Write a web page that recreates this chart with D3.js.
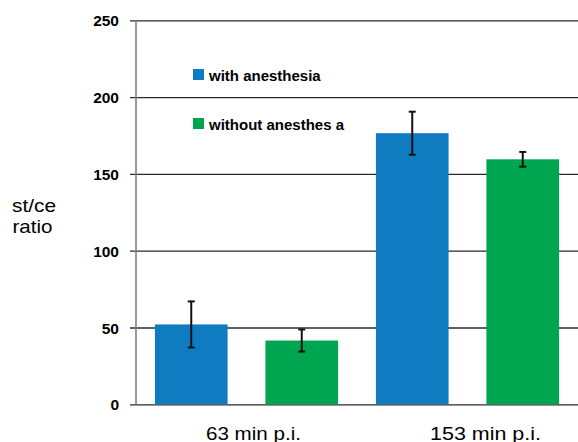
<!DOCTYPE html>
<html><head><meta charset="utf-8">
<script src="https://cdn.jsdelivr.net/npm/d3@7"></script>
<style>body{margin:0;background:#fff}</style>
</head><body>
<svg id="c" width="578" height="442"></svg>
<script>
const categories = ["63 min p.i.", "153 min p.i."];
const seriesNames = ["with anesthesia", "without anesthes a"];
const withAnesthesia = [52, 176.5];
const withAnesthesiaErr = [15, 14];
const withoutAnesthesia = [41.5, 159.5];
const withoutAnesthesiaErr = [7.2, 4.8];
const yTicks = [0, 50, 100, 150, 200, 250];
const colors = ["#0f7bc1", "#00a550"];

const svg = d3.select("#c");
const mLeft = 136, mRight = 578, mTop = 20.3, mBottom = 404.3;

const y = d3.scaleLinear().domain([0, 250]).range([mBottom, mTop]);
const x0 = d3.scaleBand().domain(categories).range([mLeft, mRight]).padding(0);
const x1 = d3.scaleBand().domain(seriesNames).range([0, x0.bandwidth()])
  .paddingInner(38 / 111).paddingOuter(19 / 111);

// gridlines + ticks
const yAxis = d3.axisLeft(y).tickValues(yTicks).tickSize(-(mRight - mLeft)).tickSizeOuter(0)
  .tickFormat(d3.format("d"));
const ga = svg.append("g").attr("transform", `translate(${mLeft},0)`).call(yAxis);
ga.select(".domain").remove();
ga.selectAll(".tick line").attr("x1", -6).attr("stroke", "#2a2a2a").attr("stroke-width", 1.3);
ga.selectAll(".tick text").attr("x", -17).attr("dy", "0.36em")
  .attr("font-family", "Liberation Sans, Arial, sans-serif").attr("font-weight", "bold")
  .attr("font-size", 15.5).attr("fill", "#000");

// vertical axis line
svg.append("line").attr("x1", mLeft).attr("x2", mLeft).attr("y1", y(250)).attr("y2", y(0))
  .attr("stroke", "#7a7a7a").attr("stroke-width", 1.5);

const data = categories.map((c, i) => ({
  cat: c,
  vals: [
    { s: seriesNames[0], v: withAnesthesia[i], e: withAnesthesiaErr[i], col: colors[0] },
    { s: seriesNames[1], v: withoutAnesthesia[i], e: withoutAnesthesiaErr[i], col: colors[1] }
  ]
}));

const groups = svg.append("g").selectAll("g").data(data).join("g")
  .attr("transform", d => `translate(${x0(d.cat)},0)`);

groups.selectAll("rect").data(d => d.vals).join("rect")
  .attr("x", d => x1(d.s)).attr("width", x1.bandwidth())
  .attr("y", d => y(d.v)).attr("height", d => y(0) - y(d.v))
  .attr("fill", d => d.col);

const eb = groups.selectAll("g.err").data(d => d.vals).join("g").attr("class", "err");
eb.append("line")
  .attr("x1", d => x1(d.s) + x1.bandwidth() / 2).attr("x2", d => x1(d.s) + x1.bandwidth() / 2)
  .attr("y1", d => y(d.v + d.e)).attr("y2", d => y(d.v - d.e))
  .attr("stroke", "#111").attr("stroke-width", 2);
eb.selectAll("line.cap").data(d => [
  { cx: x1(d.s) + x1.bandwidth() / 2, yy: y(d.v + d.e) },
  { cx: x1(d.s) + x1.bandwidth() / 2, yy: y(d.v - d.e) }
]).join("line").attr("class", "cap")
  .attr("x1", d => d.cx - 3.5).attr("x2", d => d.cx + 3.5)
  .attr("y1", d => d.yy).attr("y2", d => d.yy)
  .attr("stroke", "#111").attr("stroke-width", 2);

// category labels
const labLen = [95, 111];
const labShift = [7, 18];
svg.append("g").selectAll("text").data(categories).join("text")
  .attr("x", (d, i) => x0(d) + x0.bandwidth() / 2 + labShift[i] - labLen[i] / 2)
  .attr("y", 439.5)
  .attr("font-family", "Liberation Sans, Arial, sans-serif").attr("font-size", 18.5)
  .attr("textLength", (d, i) => labLen[i]).attr("lengthAdjust", "spacingAndGlyphs")
  .attr("fill", "#000").text(d => d);

// y label
const yl = svg.append("g").attr("font-family", "Liberation Sans, Arial, sans-serif").attr("font-size", 18.5).attr("fill", "#000");
yl.append("text").attr("x", 12).attr("y", 211.5).attr("textLength", 44).attr("lengthAdjust", "spacingAndGlyphs").text("st/ce");
yl.append("text").attr("x", 12.5).attr("y", 233).attr("textLength", 40).attr("lengthAdjust", "spacingAndGlyphs").text("ratio");

// legend
const leg = svg.append("g").selectAll("g").data(seriesNames).join("g")
  .attr("transform", (d, i) => `translate(193,${69 + i * 49})`);
leg.append("rect").attr("width", 11).attr("height", 11).attr("fill", (d, i) => colors[i]);
leg.append("text").attr("x", 16).attr("y", 11.5)
  .attr("font-family", "Liberation Sans, Arial, sans-serif").attr("font-weight", "bold")
  .attr("font-size", 15).attr("fill", "#000").text(d => d);
</script>
</body></html>
